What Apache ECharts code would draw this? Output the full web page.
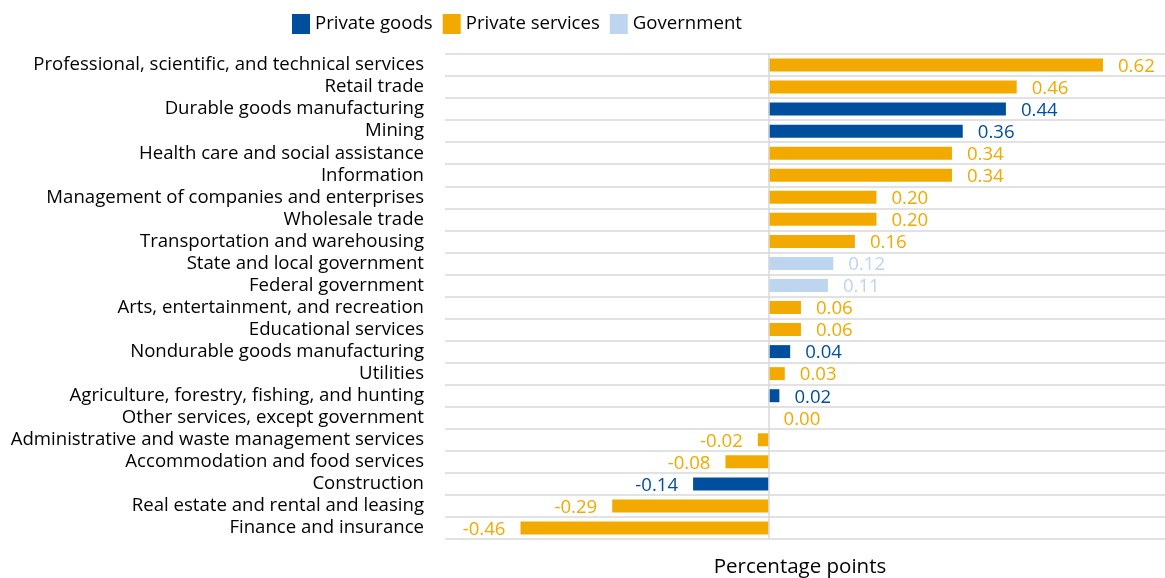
<!DOCTYPE html>
<html><head><meta charset="utf-8">
<script src="https://cdn.jsdelivr.net/npm/echarts@6/dist/echarts.min.js"></script>
<style>html,body{margin:0;padding:0;background:#fff}#c{width:1165px;height:578px}</style>
</head><body><div id="c"></div>
<script>
const categories = ["Professional, scientific, and technical services","Retail trade","Durable goods manufacturing","Mining","Health care and social assistance","Information","Management of companies and enterprises","Wholesale trade","Transportation and warehousing","State and local government","Federal government","Arts, entertainment, and recreation","Educational services","Nondurable goods manufacturing","Utilities","Agriculture, forestry, fishing, and hunting","Other services, except government","Administrative and waste management services","Accommodation and food services","Construction","Real estate and rental and leasing","Finance and insurance"];
const values = [0.62,0.46,0.44,0.36,0.34,0.34,0.20,0.20,0.16,0.12,0.11,0.06,0.06,0.04,0.03,0.02,0.00,-0.02,-0.08,-0.14,-0.29,-0.46];
const groups = ["S","S","G","G","S","S","S","S","S","V","V","S","S","G","S","G","S","S","S","G","S","S"];
const seriesNames = {G:"Private goods",S:"Private services",V:"Government"};
const colors = {G:"#004F9E",S:"#F2AA00",V:"#BDD5EE"};
const FONT = "Open Sans";
const FS = 18.6;
function mk(key){
  return {
    name: seriesNames[key], type:"bar", stack:"all", barWidth:13,
    itemStyle:{color:colors[key]},
    data: values.map((v,i)=> groups[i]===key ? {value:v, label:{position: v<0?"left":"right"}} : null),
    label:{show:true, distance:15, offset:[0,1.5], color:colors[key], fontFamily:FONT, fontSize:FS,
      formatter:p=>p.value.toFixed(2)},
  };
}
const series = [mk("G"),mk("S"),mk("V")];
series[0].markLine = {silent:true, symbol:"none", label:{show:false}, lineStyle:{color:"#d9d9d9",type:"solid",width:1.5}, data:[{xAxis:0}], animation:false};
const chart = echarts.init(document.getElementById("c"));
chart.setOption({
  animation:false,
  legend:{top:9,left:287,itemWidth:18,itemHeight:20,itemGap:10,icon:"rect",
    textStyle:{fontFamily:FONT,fontSize:FS,color:"#000"},
    data:["Private goods","Private services","Government"]},
  grid:{left:445,right:0,top:54,bottom:39,outerBoundsMode:"none",containLabel:false},
  xAxis:{type:"value",min:-0.6,max:0.735,axisLabel:{show:false},axisLine:{show:false},axisTick:{show:false},splitLine:{show:false},
    name:"Percentage points",nameLocation:"middle",nameGap:18,nameTextStyle:{fontFamily:FONT,fontSize:20.5,color:"#000",padding:[0,10,0,0]}},
  yAxis:{type:"category",inverse:true,data:categories,axisLine:{show:false,onZero:false},axisTick:{show:false},
    axisLabel:{margin:21,fontFamily:FONT,fontSize:FS,color:"#000",interval:0,padding:[6,0,0,0]},
    splitLine:{show:true,interval:0,lineStyle:{color:"#d9d9d9",width:1.5}}},
  series
});
</script></body></html>
